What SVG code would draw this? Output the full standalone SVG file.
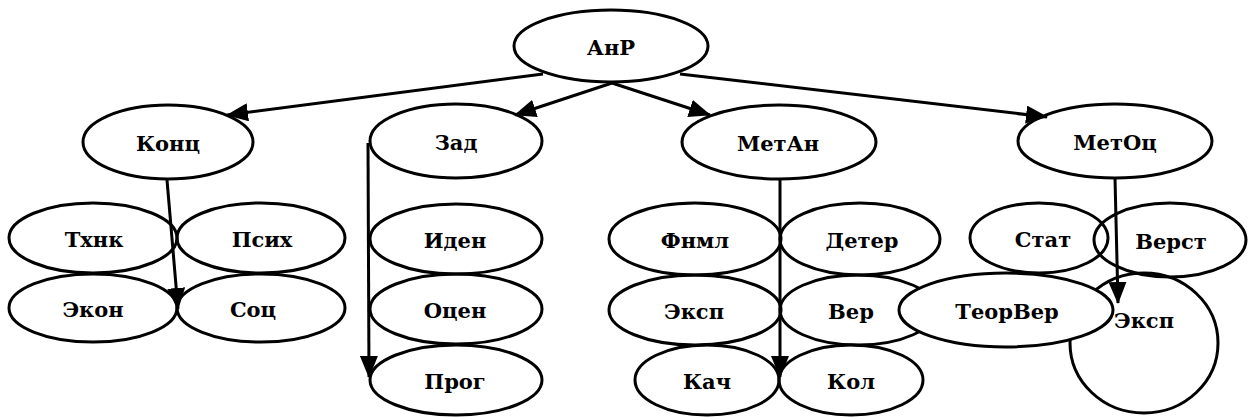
<svg xmlns="http://www.w3.org/2000/svg" width="1249" height="417" viewBox="0 0 1249 417">
<style>
.n{fill:none;stroke:#000;stroke-width:3}
.w{fill:#fff;stroke:#000;stroke-width:3}
.t{font-family:"DejaVu Serif","Liberation Serif",serif;font-weight:bold;font-size:21px;text-anchor:middle;fill:#000}
.c{fill:none;stroke:#000;stroke-width:3;marker-end:url(#ah)}
</style>
<defs>
<marker id="ah" markerUnits="userSpaceOnUse" markerWidth="22" markerHeight="18" refX="21" refY="9" orient="auto">
<path d="M0,0 L22,9 L0,18 Z" fill="#000"/>
</marker>
</defs>
<rect width="1249" height="417" fill="#fff"/>
<g id="anr"><ellipse class="n" cx="611" cy="46" rx="97" ry="36"/><text class="t" x="611" y="55">АнР</text></g>
<g id="konc"><ellipse class="n" cx="168" cy="142" rx="85" ry="37"/><text class="t" x="168" y="151">Конц</text></g>
<g id="zad"><ellipse class="n" cx="456" cy="141" rx="86" ry="37"/><text class="t" x="456" y="150">Зад</text></g>
<g id="metan"><ellipse class="n" cx="779" cy="142" rx="97" ry="37"/><text class="t" x="778" y="151">МетАн</text></g>
<g id="metoc"><ellipse class="n" cx="1115" cy="141" rx="97" ry="37"/><text class="t" x="1115" y="150">МетОц</text></g>
<g id="txnk"><ellipse class="n" cx="93" cy="238" rx="84" ry="35"/><text class="t" x="94" y="247">Тхнк</text></g>
<g id="psix"><ellipse class="n" cx="261" cy="238" rx="84" ry="35"/><text class="t" x="262" y="247">Псих</text></g>
<g id="ekon"><ellipse class="n" cx="93" cy="308" rx="84" ry="34"/><text class="t" x="93" y="317">Экон</text></g>
<g id="soc"><ellipse class="n" cx="261" cy="308" rx="84" ry="34"/><text class="t" x="253" y="317">Соц</text></g>
<g id="iden"><ellipse class="n" cx="456" cy="239" rx="86" ry="35"/><text class="t" x="455" y="248">Иден</text></g>
<g id="ocen"><ellipse class="n" cx="456" cy="309" rx="86" ry="35"/><text class="t" x="455" y="318">Оцен</text></g>
<g id="prog"><ellipse class="n" cx="456" cy="380" rx="86" ry="35"/><text class="t" x="455" y="389">Прог</text></g>
<g id="fnml"><ellipse class="n" cx="695" cy="239" rx="86" ry="36"/><text class="t" x="695" y="248">Фнмл</text></g>
<g id="deter"><ellipse class="n" cx="860" cy="239" rx="80" ry="36"/><text class="t" x="862" y="248">Детер</text></g>
<g id="eksp1"><ellipse class="n" cx="695" cy="310" rx="86" ry="35"/><text class="t" x="694" y="319">Эксп</text></g>
<g id="ver"><ellipse class="n" cx="858" cy="310" rx="78" ry="35"/><text class="t" x="851" y="319">Вер</text></g>
<g id="kach"><ellipse class="n" cx="707" cy="380" rx="72" ry="35"/><text class="t" x="707" y="389">Кач</text></g>
<g id="kol"><ellipse class="n" cx="851" cy="380" rx="72" ry="35"/><text class="t" x="851" y="389">Кол</text></g>
<g id="stat"><ellipse class="n" cx="1039" cy="238" rx="69" ry="35"/><text class="t" x="1043" y="247">Стат</text></g>
<g id="verst"><ellipse class="n" cx="1170" cy="240" rx="76" ry="37"/><text class="t" x="1171" y="249">Верст</text></g>
<g id="eksp2"><ellipse class="n" cx="1144" cy="343" rx="74" ry="70"/><text class="t" x="1144" y="328">Эксп</text></g>
<g id="teorver"><ellipse class="w" cx="1006" cy="310" rx="107" ry="37"/><text class="t" x="1007" y="319">ТеорВер</text></g>
<g id="connectors">
<line class="c" x1="543" y1="74" x2="227" y2="115"/>
<line class="c" x1="612" y1="83" x2="515" y2="115"/>
<line class="c" x1="612" y1="83" x2="710" y2="115"/>
<line class="c" x1="680" y1="74" x2="1047" y2="117"/>
<line class="c" x1="167" y1="180" x2="178" y2="309"/>
<line class="c" x1="368" y1="143" x2="369" y2="377"/>
<line class="c" x1="780" y1="180" x2="780" y2="377"/>
<line class="c" x1="1115" y1="178" x2="1118" y2="303"/>
</g>
</svg>
